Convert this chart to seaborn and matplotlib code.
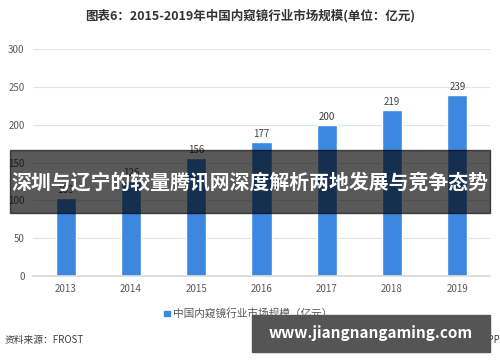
import matplotlib

matplotlib.use("Agg")

import matplotlib.pyplot as plt
import pandas as pd
import seaborn as sns
from matplotlib.patches import Rectangle

years = ["2013", "2014", "2015", "2016", "2017", "2018", "2019"]
market_size = [103, 126, 156, 177, 200, 219, 239]
y_ticks = [0, 50, 100, 150, 200, 250, 300]

title = "图表6：2015-2019年中国内窥镜行业市场规模(单位：亿元)"
series_name = "中国内窥镜行业市场规模（亿元）"
source = "资料来源：FROST"
credit = "@前瞻经济学人APP"
banner = "深圳与辽宁的较量腾讯网深度解析两地发展与竞争态势"
site = "www.jiangnangaming.com"

sns.set_theme(style="white")
plt.rcParams["font.family"] = ["Noto Sans CJK SC", "DejaVu Sans"]

bar_color = "#3C87E0"
df = pd.DataFrame({"year": years, "value": market_size})

fig = plt.figure(figsize=(5, 3.62), dpi=100)
ax = fig.add_axes([0.066, 0.2376, 0.914, 0.627])
sns.barplot(data=df, x="year", y="value", color=bar_color, width=0.31,
            saturation=1, ax=ax)

ax.set_ylim(0, 300)
ax.set_yticks(y_ticks)
ax.yaxis.grid(True, color="#e3e3e3", linewidth=0.8)
ax.set_axisbelow(True)
for s in ["top", "right", "left"]:
    ax.spines[s].set_visible(False)
ax.spines["bottom"].set_color("#d9d9d9")
ax.tick_params(axis="both", length=0, labelsize=7, colors="#595959", pad=6)
ax.set_xlabel("")
ax.set_ylabel("")

for i, v in enumerate(market_size):
    ax.text(i, v + 4, str(v), ha="center", va="bottom", fontsize=7, color="#404040")

fig.text(0.5, 0.955, title, ha="center", va="center", fontsize=9,
         fontweight="bold", color="#333333")

# legend
fig.patches.append(Rectangle((0.328, 0.127), 0.011, 0.015, transform=fig.transFigure,
                             color=bar_color, figure=fig))
fig.text(0.345, 0.135, series_name, ha="left", va="center", fontsize=7.7, color="#595959")
fig.text(0.01, 0.06, source, ha="left", va="center", fontsize=7, color="#404040")
fig.text(1.0, 0.06, credit, ha="right", va="center", fontsize=7, color="#404040")

# overlays
fig.patches.append(Rectangle((0.02, 1 - 213 / 362), 0.96, 63 / 362,
                             transform=fig.transFigure, color="black", alpha=0.65,
                             figure=fig, zorder=10))
fig.text(0.5, 1 - 182 / 362, banner, ha="center", va="center", fontsize=14.3,
         fontweight="bold", color="white", zorder=11)
fig.patches.append(Rectangle((252 / 500, 1 - 352 / 362), 238 / 500, 37 / 362,
                             transform=fig.transFigure, color="#555555",
                             figure=fig, zorder=10))
fig.text(371 / 500, 1 - 333 / 362, site, ha="center", va="center", fontsize=11,
         fontweight="bold", color="white", zorder=11)

fig.savefig("out.png", dpi=100)
plt.close(fig)
